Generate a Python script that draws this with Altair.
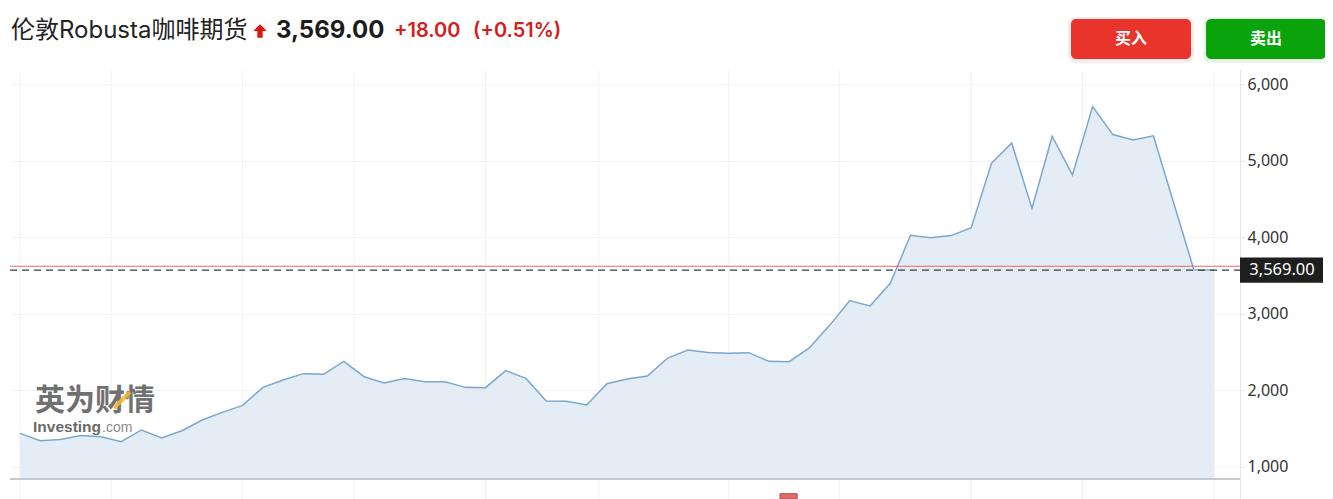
import altair as alt
import pandas as pd

# ---- data ----
prices = [1435, 1340, 1357, 1409, 1392, 1327, 1480, 1375, 1470, 1610,
          1710, 1801, 2037, 2133, 2216, 2207, 2377, 2176, 2094, 2154,
          2111, 2111, 2037, 2033, 2255, 2154, 1859, 1854, 1806, 2085,
          2146, 2185, 2420, 2525, 2494, 2481, 2490, 2377, 2373, 2552,
          2847, 3170, 3100, 3396, 4024, 3993, 4020, 4124, 4965, 5231,
          4376, 5318, 4813, 5706, 5340, 5271, 5323, 4450, 3575, 3569]
period = list(range(len(prices)))
grid_periods = [0, 4.5, 11, 16.5, 23, 28.6, 35, 40.5, 47, 52.5, 59]
y_ticks = [1000, 2000, 3000, 4000, 5000, 6000]
last_price = 3569
ref_price = 3620
vol_period = [37.55]
vol_period_end = [38.4]

title_text = "伦敦Robusta咖啡期货"
price_text = "3,569.00"
change_text = "+18.00"
pct_text = "(+0.51%)"

W, H = 1230, 429
Y_MIN, Y_MAX = 578, 6184
BASE = 839

df = pd.DataFrame({"period": period, "price": prices})
grid_df = pd.DataFrame({"gx": grid_periods})
vol_df = pd.DataFrame({"a": vol_period, "b": vol_period_end})
one = pd.DataFrame({"k": [0]})

xs = alt.Scale(domain=[-0.494, 60.28], nice=False, zero=False)
ys = alt.Scale(domain=[Y_MIN, Y_MAX], nice=False, zero=False)

LATIN_CJK = "Inter, 'Noto Sans CJK SC', sans-serif"

vgrid = alt.Chart(grid_df).mark_rule(color="#f1f2f4", strokeWidth=1).encode(
    x=alt.X("gx:Q", scale=xs, axis=None), y=alt.value(0), y2=alt.value(H))

area = alt.Chart(df).mark_area(color="#e4ecf5", opacity=1).encode(
    x=alt.X("period:Q", scale=xs, axis=None),
    y=alt.Y("price:Q", scale=ys, axis=alt.Axis(
        orient="right", values=y_ticks, format=",.0f", title=None,
        labelFontSize=16, labelColor="#333333", labelFont="Noto Sans",
        tickSize=4, tickColor="#dfe2e6", domainColor="#e3e6ea",
        gridColor="#f2f3f5", labelPadding=3)),
    y2=alt.datum(BASE))

line = alt.Chart(df).mark_line(color="#7ba7cf", strokeWidth=1.5).encode(
    x=alt.X("period:Q", scale=xs), y=alt.Y("price:Q", scale=ys))

base_rule = alt.Chart(one).mark_rule(color="#c6cacf", strokeWidth=2).encode(
    y=alt.datum(BASE), x=alt.value(0), x2=alt.value(W))

vol = alt.Chart(vol_df).mark_rect(color="#e06b6b", stroke="#b94a4a", strokeWidth=1).encode(
    x=alt.X("a:Q", scale=xs), x2="b:Q", y=alt.datum(Y_MIN), y2=alt.datum(647))

red_rule = alt.Chart(one).mark_rule(color="#e46a6a", strokeWidth=1.1).encode(
    y=alt.datum(ref_price), x=alt.value(0), x2=alt.value(W))

dash_rule = alt.Chart(one).mark_rule(color="#3a3a3a", strokeWidth=1.4, strokeDash=[7, 5]).encode(
    y=alt.datum(last_price), x=alt.value(0), x2=alt.value(W))

lbl_box = alt.Chart(one).mark_rect(color="#1e1e1e").encode(
    x=alt.value(W), x2=alt.value(W + 83),
    y=alt.datum(last_price + 165), y2=alt.datum(last_price - 165))

lbl_txt = alt.Chart(one).mark_text(color="white", fontSize=16.5, font="Noto Sans",
                                   align="center", baseline="middle").encode(
    x=alt.value(W + 42), y=alt.datum(last_price), text=alt.value(price_text))

# header (pixel positions relative to plot origin)
title = alt.Chart(one).mark_text(fontSize=24, font=LATIN_CJK, color="#222222",
                                 align="left", baseline="middle").encode(
    x=alt.value(1), y=alt.value(-39), text=alt.value(title_text))

arrow = alt.Chart(one).mark_point(
    shape="M0,-1 L1,0 L0.4,0 L0.4,1 L-0.4,1 L-0.4,0 L-1,0 Z",
    filled=True, color="#e0140f", size=180, opacity=1).encode(
    x=alt.value(250), y=alt.value(-39))

price_hdr = alt.Chart(one).mark_text(fontSize=24, font="Inter", fontWeight="bold",
                                     color="#1c1c1c", align="left", baseline="middle").encode(
    x=alt.value(266), y=alt.value(-39), text=alt.value(price_text))

chg = alt.Chart(one).mark_text(fontSize=20, font="Inter", fontWeight=600,
                               color="#d4201a", align="left", baseline="middle").encode(
    x=alt.value(384), y=alt.value(-39), text=alt.value(change_text))

pct = alt.Chart(one).mark_text(fontSize=20, font="Inter", fontWeight=600,
                               color="#d4201a", align="left", baseline="middle").encode(
    x=alt.value(463), y=alt.value(-39), text=alt.value(pct_text))

buy_shadow = alt.Chart(one).mark_rect(color="#f3b0aa", opacity=0.25, cornerRadius=8).encode(
    x=alt.value(1058), x2=alt.value(1184), y=alt.value(-53), y2=alt.value(-7))
buy = alt.Chart(one).mark_rect(color="#e8342a", cornerRadius=5).encode(
    x=alt.value(1061), x2=alt.value(1181), y=alt.value(-51), y2=alt.value(-11))
sell_shadow = alt.Chart(one).mark_rect(color="#a6e0a6", opacity=0.25, cornerRadius=8).encode(
    x=alt.value(1193), x2=alt.value(1319), y=alt.value(-53), y2=alt.value(-7))
sell = alt.Chart(one).mark_rect(color="#0ba30b", cornerRadius=5).encode(
    x=alt.value(1196), x2=alt.value(1316), y=alt.value(-51), y2=alt.value(-11))
buy_txt = alt.Chart(one).mark_text(color="white", fontSize=16, fontWeight="bold",
                                   font="Noto Sans CJK SC", align="center", baseline="middle").encode(
    x=alt.value(1121), y=alt.value(-31), text=alt.value("买入"))
sell_txt = alt.Chart(one).mark_text(color="white", fontSize=16, fontWeight="bold",
                                    font="Noto Sans CJK SC", align="center", baseline="middle").encode(
    x=alt.value(1256), y=alt.value(-31), text=alt.value("卖出"))

# watermark
wm1 = alt.Chart(one).mark_text(color="#707070", fontSize=30, fontWeight="bold",
                               font="Noto Sans CJK SC", align="left", baseline="middle").encode(
    x=alt.value(25), y=alt.value(331), text=alt.value("英为财情"))
wm_slash = alt.Chart(one).mark_rule(color="#f2b632", strokeWidth=4, opacity=0.9).encode(
    x=alt.value(104), y=alt.value(338), x2=alt.value(120), y2=alt.value(322))
wm2 = alt.Chart(one).mark_text(color="#6a6a6a", fontSize=15.5, fontWeight="bold",
                               font="Liberation Sans", align="left", baseline="alphabetic").encode(
    x=alt.value(23), y=alt.value(362), text=alt.value("Investing"))
wm3 = alt.Chart(one).mark_text(color="#8a8a8a", fontSize=14,
                               font="Liberation Sans", align="left", baseline="alphabetic").encode(
    x=alt.value(92), y=alt.value(362), text=alt.value(".com"))

chart = alt.layer(
    vgrid, area, line, base_rule, vol, red_rule, dash_rule, lbl_box, lbl_txt,
    wm1, wm_slash, wm2, wm3,
    title, arrow, price_hdr, chg, pct,
    buy_shadow, sell_shadow, buy, sell, buy_txt, sell_txt
).properties(
    width=W, height=H,
    padding={"left": 2, "top": 62, "right": 85, "bottom": 0},
    autosize=alt.AutoSizeParams(type="none"),
    background="white",
).configure_view(stroke=None, strokeWidth=0)

chart.save("out.html", embed_options={"renderer": "svg", "actions": False})
